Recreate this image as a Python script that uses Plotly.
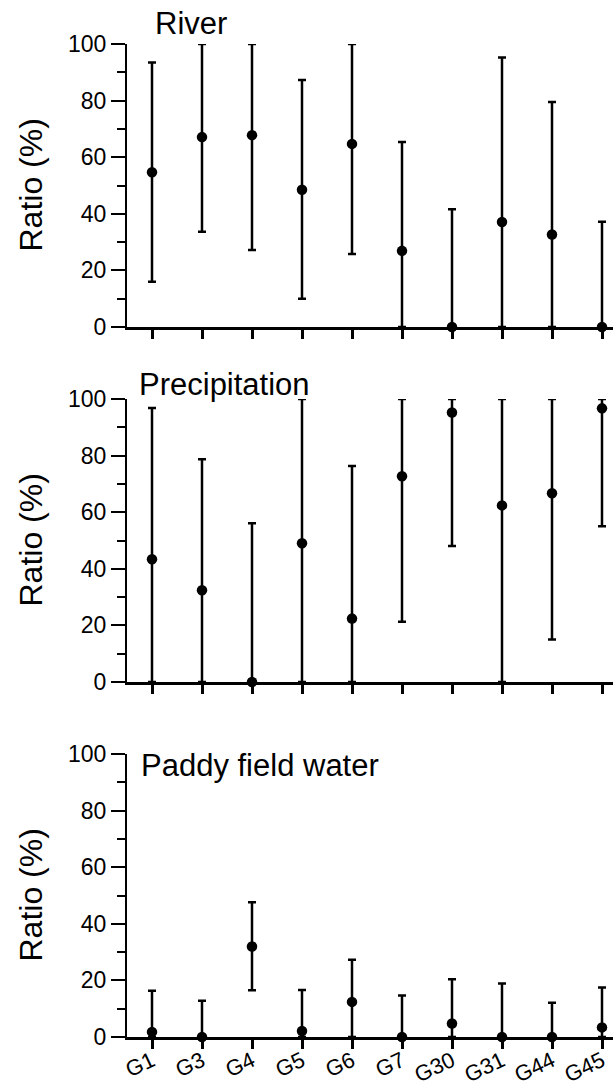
import plotly.graph_objects as go

categories = ["G1", "G3", "G4", "G5", "G6", "G7", "G30", "G31", "G44", "G45"]

river_mean = [54.7, 67.1, 67.8, 48.5, 64.7, 26.9, 0, 37.1, 32.7, 0]
river_low = [16.0, 33.7, 27.2, 10.0, 25.8, 0, 0, 0, 0, 0]
river_high = [93.5, 100, 100, 87.3, 100, 65.4, 41.6, 95.2, 79.5, 37.2]

precip_mean = [43.4, 32.4, 0, 49.0, 22.4, 72.7, 95.2, 62.4, 66.7, 96.7]
precip_low = [0, 0, 0, 0, 0, 21.3, 48.1, 0, 15.0, 55.0]
precip_high = [96.8, 78.7, 56.1, 100, 76.3, 100, 100, 100, 100, 100]

paddy_mean = [1.8, 0, 32.0, 2.1, 12.4, 0, 4.8, 0, 0, 3.4]
paddy_low = [0, 0, 16.5, 0, 0, 0, 0, 0, 0, 0]
paddy_high = [16.3, 12.8, 47.6, 16.6, 27.3, 14.7, 20.4, 18.9, 12.1, 17.5]

panel_titles = ["River", "Precipitation", "Paddy field water"]
y_title = "Ratio (%)"
y_ticks = [0, 20, 40, 60, 80, 100]
y_minor = [10, 30, 50, 70, 90]

W, H = 613, 1092
FONT = "Liberation Sans, Arial, sans-serif"

# pixel layout
panel_px = [(44, 327), (399, 682), (754, 1037)]
x_left_px = 127
title_pos = [(153, 23.5), (137, 384), (139, 765)]

fig = go.Figure()
series = [(river_mean, river_low, river_high),
          (precip_mean, precip_low, precip_high),
          (paddy_mean, paddy_low, paddy_high)]

for i, (m, lo, hi) in enumerate(series):
    n = i + 1
    plus = [h - v for h, v in zip(hi, m)]
    minus = [v - l for v, l in zip(m, lo)]
    fig.add_trace(go.Scatter(
        x=categories, y=m, mode="markers",
        marker=dict(color="black", size=10.5),
        error_y=dict(type="data", array=plus, arrayminus=minus, symmetric=False,
                     color="black", thickness=2.5, width=4),
        cliponaxis=False, showlegend=False,
        xaxis="x" if n == 1 else f"x{n}", yaxis="y" if n == 1 else f"y{n}",
    ))
    top, bot = panel_px[i]
    dom = [1 - bot / H, 1 - top / H]
    xa = dict(
        domain=[x_left_px / W, 1], range=[-0.5, 9.22], type="category",
        showline=True, linecolor="black", linewidth=2.5,
        ticks="outside", ticklen=9, tickwidth=2.5, tickcolor="black",
        showgrid=False, zeroline=False, automargin=False,
        anchor="y" if n == 1 else f"y{n}",
        showticklabels=(n == 3), tickangle=-25, ticklabelstandoff=-9,
        tickfont=dict(family=FONT, size=22, color="black"),
    )
    ya = dict(
        domain=dom, range=[0, 100], tickvals=y_ticks,
        showline=True, linecolor="black", linewidth=2,
        ticks="outside", ticklen=14, tickwidth=2, tickcolor="black",
        minor=dict(tickvals=y_minor, ticks="outside", ticklen=8, tickwidth=2, tickcolor="black"),
        showgrid=False, zeroline=False, automargin=False,
        anchor="x" if n == 1 else f"x{n}",
        tickfont=dict(family=FONT, size=23, color="black"),
    )
    fig.layout["xaxis" if n == 1 else f"xaxis{n}"] = xa
    fig.layout["yaxis" if n == 1 else f"yaxis{n}"] = ya
    tx, ty = title_pos[i]
    fig.add_annotation(text=panel_titles[i], x=tx / W, y=1 - ty / H, xref="paper", yref="paper",
                       xanchor="left", yanchor="middle", showarrow=False,
                       font=dict(family=FONT, size=31, color="black"))
    fig.add_annotation(text=y_title, x=30 / W, y=1 - (top + bot) / 2 / H, xref="paper", yref="paper",
                       xanchor="center", yanchor="middle", showarrow=False, textangle=-90,
                       font=dict(family=FONT, size=32, color="black"))

fig.update_layout(width=W, height=H, margin=dict(l=0, r=0, t=0, b=0),
                  plot_bgcolor="white", paper_bgcolor="white")
fig.write_html("out.html")
